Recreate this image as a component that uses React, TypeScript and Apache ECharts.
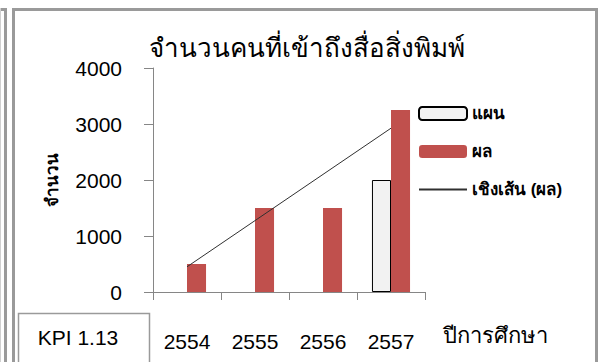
import React, { useEffect, useRef } from "react";
import * as echarts from "echarts";

// Academic years and yearly counts of people reaching printed media
const years = ["2554", "2555", "2556", "2557"];
const planValues: (number | null)[] = [null, null, null, 2000];
const resultValues = [500, 1500, 1500, 3250];
const yTicks = [0, 1000, 2000, 3000, 4000];

const titleText = "จำนวนคนที่เข้าถึงสื่อสิ่งพิมพ์";
const yName = "จำนวน";
const xName = "ปีการศึกษา";
const planName = "แผน";
const resultName = "ผล";
const trendName = "เชิงเส้น (ผล)";
const kpiText = "KPI 1.13";

// least-squares linear fit of the results, evaluated at each category
function linearTrend(values: number[]): number[] {
  const n = values.length;
  const xs = values.map((_, i) => i + 1);
  const mx = xs.reduce((a, b) => a + b, 0) / n;
  const my = values.reduce((a, b) => a + b, 0) / n;
  let num = 0;
  let den = 0;
  xs.forEach((x, i) => {
    num += (x - mx) * (values[i] - my);
    den += (x - mx) * (x - mx);
  });
  const slope = num / den;
  return xs.map((x) => my + slope * (x - mx));
}

const FONT = "Tahoma, 'Liberation Sans', 'Noto Sans', 'DejaVu Sans', sans-serif";

export default function App() {
  const ref = useRef<HTMLDivElement>(null);

  useEffect(() => {
    if (!ref.current) return;
    const chart = echarts.init(ref.current, undefined, { renderer: "svg" });
    const frame = "#9a9a9a";
    chart.setOption({
      animation: false,
      backgroundColor: "#ffffff",
      textStyle: { fontFamily: FONT },
      title: {
        text: titleText,
        left: 144,
        top: 30,
        textStyle: { fontSize: 26, fontWeight: "normal", color: "#000", fontFamily: FONT },
      },
      grid: { left: 153, right: 176, top: 68, bottom: 70, containLabel: false },
      legend: {
        orient: "vertical",
        left: 413,
        top: 100,
        itemWidth: 48,
        itemHeight: 13,
        itemGap: 21,
        textStyle: { fontSize: 17, fontWeight: "bold", color: "#000", fontFamily: FONT },
        data: [
          planName,
          resultName,
          { name: trendName, itemStyle: { opacity: 0 } },
        ],
      },
      xAxis: {
        type: "category",
        data: years,
        axisLine: { lineStyle: { color: "#868686", width: 1 } },
        axisTick: { show: true, length: 8, lineStyle: { color: "#868686" } },
        axisLabel: { fontSize: 21, color: "#000", margin: 39, fontFamily: FONT },
      },
      yAxis: {
        type: "value",
        min: yTicks[0],
        max: yTicks[yTicks.length - 1],
        interval: 1000,
        name: yName,
        nameLocation: "middle",
        nameGap: 92,
        nameTextStyle: { fontSize: 17, fontWeight: "bold", color: "#000", fontFamily: FONT },
        splitLine: { show: false },
        axisLine: { show: true, lineStyle: { color: "#868686", width: 1 } },
        axisTick: { show: true, length: 9, lineStyle: { color: "#868686" } },
        axisLabel: {
          fontSize: 21,
          color: "#000",
          margin: 31,
          fontFamily: FONT,
          formatter: (v: number) => String(v),
        },
      },
      series: [
        {
          name: planName,
          type: "bar",
          data: planValues.map((v) => (v === null ? "-" : v)),
          barGap: "0%",
          barCategoryGap: "44%",
          itemStyle: { color: "#f2f2f2", borderColor: "#000", borderWidth: 1 },
        },
        {
          name: resultName,
          type: "bar",
          data: resultValues,
          barGap: "0%",
          barCategoryGap: "44%",
          itemStyle: { color: "#c0504d" },
        },
        {
          name: trendName,
          type: "line",
          data: linearTrend(resultValues),
          symbol: "none",
          z: 5,
          lineStyle: { color: "#303030", width: 1 },
          itemStyle: { color: "#303030" },
        },
      ],
      graphic: [
        // outer frame of the sheet
        { type: "line", shape: { x1: 0, y1: 9.5, x2: 6, y2: 9.5 }, style: { stroke: frame, lineWidth: 3 } },
        { type: "line", shape: { x1: 5.5, y1: 8, x2: 5.5, y2: 362 }, style: { stroke: frame, lineWidth: 3 } },
        { type: "line", shape: { x1: 0.5, y1: 8, x2: 0.5, y2: 362 }, style: { stroke: "#d0d0d0", lineWidth: 1 } },
        {
          type: "rect",
          shape: { x: 13.5, y: 9.5, width: 583, height: 400 },
          style: { fill: "none", stroke: frame, lineWidth: 3 },
          silent: true,
        },
        {
          type: "rect",
          shape: { x: 18.5, y: 313.5, width: 131, height: 80 },
          style: { fill: "#fff", stroke: frame, lineWidth: 1.5 },
        },
        {
          type: "text",
          x: 78,
          y: 337,
          style: {
            text: kpiText,
            fontSize: 21,
            fontFamily: FONT,
            fill: "#000",
            align: "center",
            verticalAlign: "middle",
          },
        },
        {
          type: "text",
          x: 443,
          y: 335,
          style: {
            text: xName,
            fontSize: 22,
            fontFamily: FONT,
            fill: "#000",
            align: "left",
            verticalAlign: "middle",
          },
        },
      ],
    });
    return () => chart.dispose();
  }, []);

  return (
    <div
      ref={ref}
      style={{ position: "fixed", left: 0, top: 0, width: 601, height: 362 }}
    />
  );
}
